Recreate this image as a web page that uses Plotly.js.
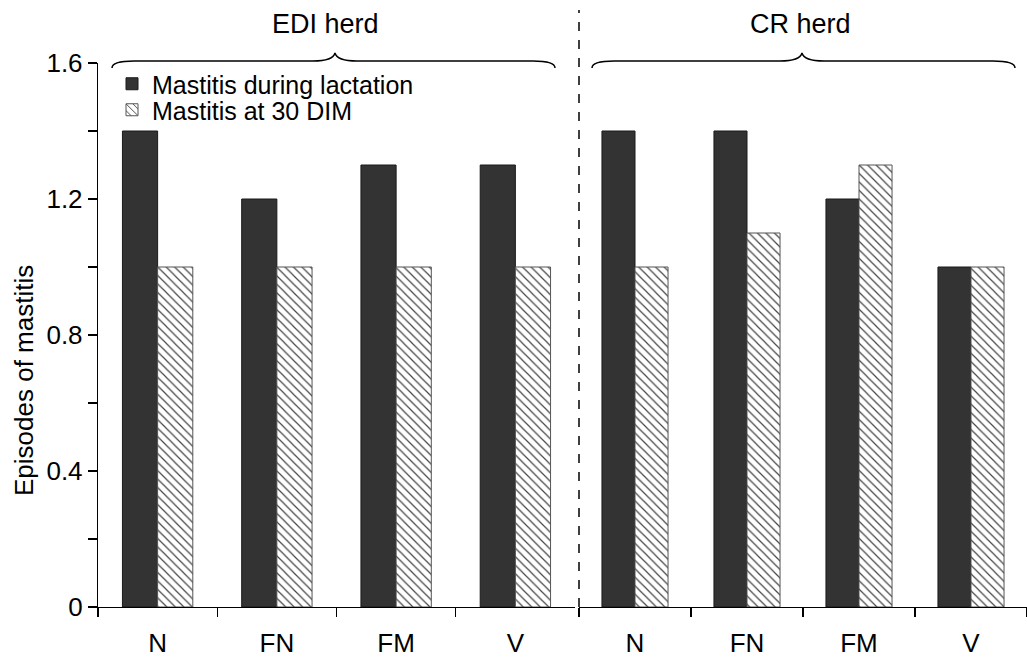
<!DOCTYPE html>
<html>
<head>
<meta charset="utf-8">
<script src="https://cdn.plot.ly/plotly-3.0.1.min.js"></script>
<style>html,body{margin:0;padding:0;background:#fff;}#chart{width:1027px;height:664px;}</style>
</head>
<body>
<div id="chart"></div>
<script>
var categories = ['N', 'FN', 'FM', 'V'];
var ediLactation = [1.4, 1.2, 1.3, 1.3];
var edi30DIM = [1.0, 1.0, 1.0, 1.0];
var crLactation = [1.4, 1.4, 1.2, 1.0];
var cr30DIM = [1.0, 1.1, 1.3, 1.0];
var seriesNames = ['Mastitis during lactation', 'Mastitis at 30 DIM'];
var groupTitles = ['EDI herd', 'CR herd'];
var yTitle = 'Episodes of mastitis';
var yTicks = [0, 0.4, 0.8, 1.2, 1.6];
var yTickText = ['0', '0.4', '0.8', '1.2', '1.6'];

var W = 1027, H = 664, ML = 98, MR = 0, MT = 63, MB = 57;
var PW = W - ML - MR, PH = H - MT - MB;
function px(x) { return (x - ML) / PW; }
function py(y) { return (H - MB - y) / PH; }

var FONT = 'Liberation Sans, Arial, Helvetica, sans-serif';
var FS = 26;
var darkMarker = {color: '#333333', line: {color: '#1a1a1a', width: 1}};
var hatchMarker = {
  color: 'white',
  line: {color: '#555555', width: 1},
  pattern: {shape: '\\', fgcolor: '#444444', bgcolor: 'white', size: 6, solidity: 0.2}
};

var traces = [
  {type: 'bar', x: categories, y: ediLactation, name: seriesNames[0], xaxis: 'x', yaxis: 'y', marker: darkMarker, legend: 'legend'},
  {type: 'bar', x: categories, y: edi30DIM, name: seriesNames[1], xaxis: 'x', yaxis: 'y', marker: hatchMarker, legend: 'legend2'},
  {type: 'bar', x: categories, y: crLactation, name: seriesNames[0], xaxis: 'x2', yaxis: 'y', marker: darkMarker, showlegend: false},
  {type: 'bar', x: categories, y: cr30DIM, name: seriesNames[1], xaxis: 'x2', yaxis: 'y', marker: hatchMarker, showlegend: false}
];

function braceRow(x0, xc, x1) {
  var yE = 68, yH = 61, yC = 53;
  function P(x, y) { return px(x).toFixed(5) + ',' + py(y).toFixed(5); }
  return 'M ' + P(x0, yE) + ' Q ' + P(x0, yH) + ' ' + P(x0 + 22, yH) +
    ' L ' + P(xc - 22, yH) + ' Q ' + P(xc - 2, yH) + ' ' + P(xc, yC) +
    ' Q ' + P(xc + 2, yH) + ' ' + P(xc + 22, yH) +
    ' L ' + P(x1 - 22, yH) + ' Q ' + P(x1, yH) + ' ' + P(x1, yE);
}

var xCommon = {
  type: 'category',
  showline: true, linecolor: '#000', linewidth: 1.2,
  ticks: 'outside', tickson: 'boundaries', ticklen: 9, tickcolor: '#000', tickwidth: 1.2,
  tickfont: {family: FONT, size: FS, color: '#000'},
  ticklabelstandoff: 13,
  showgrid: false, zeroline: false, fixedrange: true
};

var legendCommon = {
  xanchor: 'left', yanchor: 'middle',
  bgcolor: 'rgba(0,0,0,0)', borderwidth: 0,
  font: {family: FONT, size: 25, color: '#000'},
  itemwidth: 30
};

var layout = {
  width: W, height: H,
  margin: {l: ML, r: MR, t: MT, b: MB},
  paper_bgcolor: 'white', plot_bgcolor: 'white',
  font: {family: FONT, size: FS, color: '#000'},
  barmode: 'group', bargap: 0.41, bargroupgap: 0,
  showlegend: true,
  legend: Object.assign({}, legendCommon, {x: px(112), y: py(84)}),
  legend2: Object.assign({}, legendCommon, {x: px(112), y: py(110)}),
  xaxis: Object.assign({}, xCommon, {domain: [0, px(575)], anchor: 'y'}),
  xaxis2: Object.assign({}, xCommon, {domain: [px(579), 1], anchor: 'y'}),
  yaxis: {
    range: [0, 1.6], tickvals: yTicks, ticktext: yTickText,
    showline: true, linecolor: '#000', linewidth: 1.2,
    ticks: 'outside', ticklen: 9, tickcolor: '#000', tickwidth: 1.2,
    minor: {dtick: 0.2, tick0: 0, ticks: 'outside', ticklen: 9, tickcolor: '#000', tickwidth: 1.2},
    tickfont: {family: FONT, size: FS, color: '#000'},
    showgrid: false, zeroline: false, fixedrange: true
  },
  shapes: [
    {type: 'line', xref: 'paper', yref: 'paper', x0: px(579), x1: px(579), y0: 0, y1: py(10),
     line: {color: '#000', width: 1.5, dash: 'dash'}},
    {type: 'path', xref: 'paper', yref: 'paper', path: braceRow(112, 335, 555), line: {color: '#000', width: 1.5}},
    {type: 'path', xref: 'paper', yref: 'paper', path: braceRow(592, 802, 1015), line: {color: '#000', width: 1.5}}
  ],
  annotations: [
    {xref: 'paper', yref: 'paper', x: px(325), y: py(24), text: groupTitles[0], showarrow: false,
     font: {family: FONT, size: 27, color: '#000'}, xanchor: 'center', yanchor: 'middle'},
    {xref: 'paper', yref: 'paper', x: px(800), y: py(24), text: groupTitles[1], showarrow: false,
     font: {family: FONT, size: 27, color: '#000'}, xanchor: 'center', yanchor: 'middle'},
    {xref: 'paper', yref: 'paper', x: px(24), y: py(381), text: yTitle, showarrow: false, textangle: -90,
     font: {family: FONT, size: FS, color: '#000'}, xanchor: 'center', yanchor: 'middle'}
  ]
};

Plotly.newPlot('chart', traces, layout, {displayModeBar: false, staticPlot: true});
</script>
</body>
</html>
